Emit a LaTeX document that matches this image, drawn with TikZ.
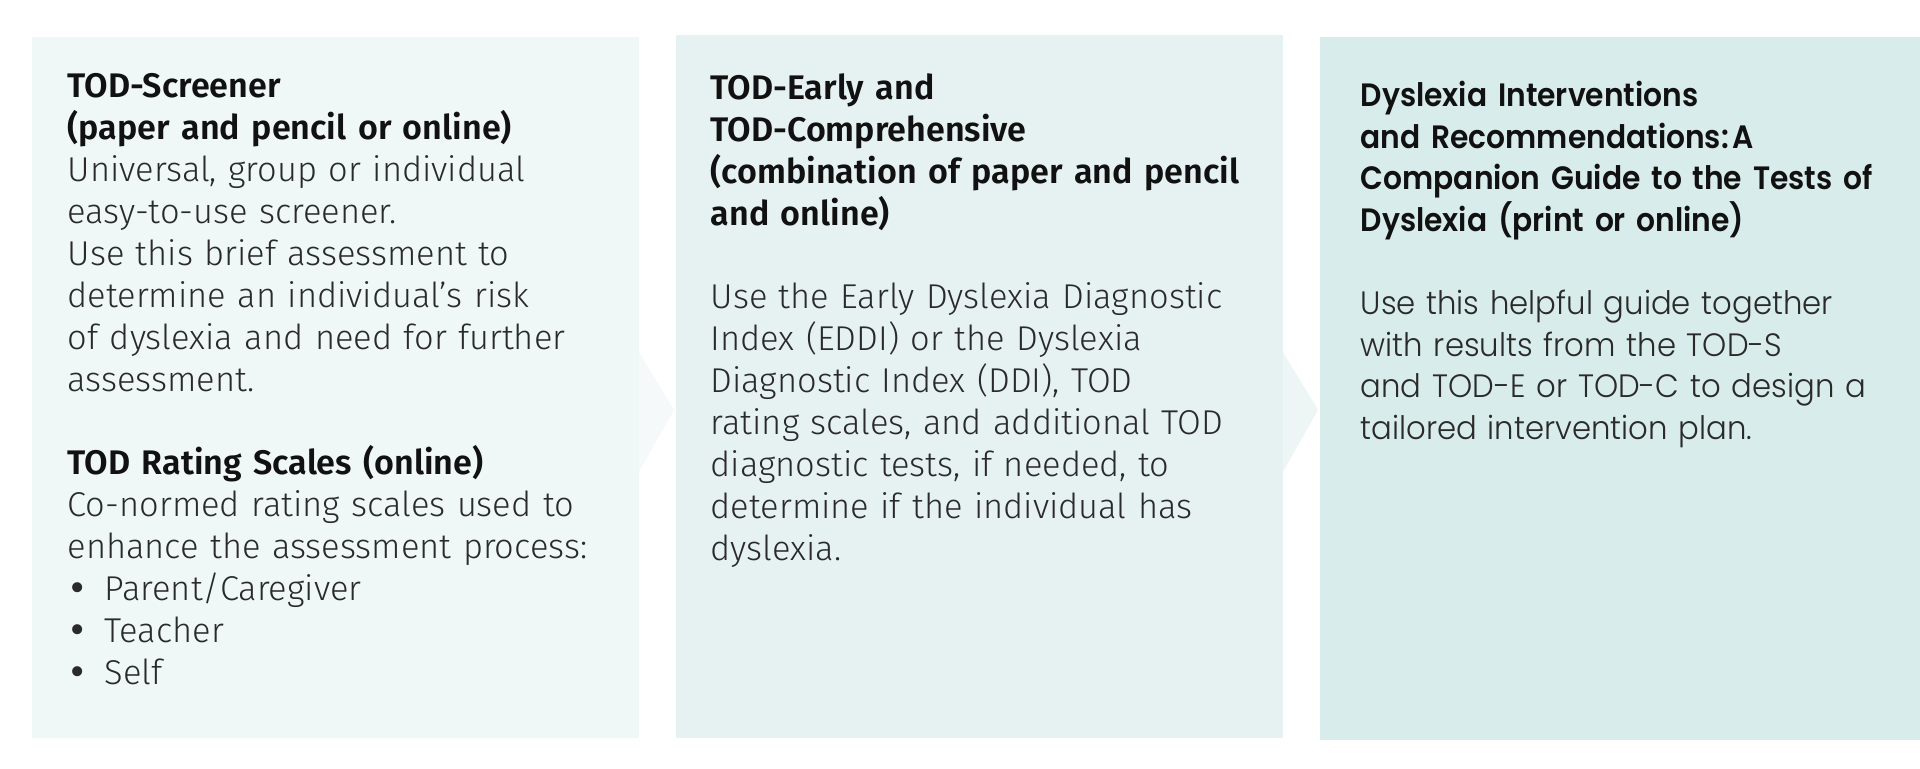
\documentclass[tikz,border=0pt]{standalone}
\usepackage{fontspec}
\usepackage{tikz}
\usetikzlibrary{positioning}

\setmainfont{Fira Sans}
\newfontfamily\headfont{Fira Sans SemiBold}
\newfontfamily\bodyfont{Fira Sans Light}
\newfontfamily\bulletfont{DejaVu Sans}
\newfontfamily\wideheadfont{Poppins SemiBold}[FakeStretch=0.92]
\newfontfamily\widebodyfont{Poppins Light}[FakeStretch=0.95]

\definecolor{panelA}{HTML}{F0F7F7}
\definecolor{panelB}{HTML}{E6F2F1}
\definecolor{panelC}{HTML}{D8ECEB}
\definecolor{inkhead}{HTML}{111111}
\definecolor{inkbody}{HTML}{2A2A2A}

\newcommand{\bulletmark}{\makebox[10.5pt][l]{{\bulletfont •}}}

\tikzset{
  panel/.style={anchor=north west, inner sep=0pt, text width=#1, align=left,
    font=\fontsize{9.8}{11.92}\selectfont, text=inkbody},
}

\begin{document}
\begin{tikzpicture}
\useasboundingbox (0,0) rectangle (19.2,7.69);

% the three panels
\fill[panelA] (0.32,0.31) rectangle (6.39,7.32) ;
\fill[panelA!70!white] (6.39,4.17) -- (6.74,3.59) -- (6.39,2.97) -- cycle ;
\fill[panelB] (6.76,0.31) rectangle (12.83,7.34) ;
\fill[panelB!70!white] (12.83,4.17) -- (13.18,3.59) -- (12.83,2.97) -- cycle ;
\fill[panelC] (13.20,0.29) rectangle (19.20,7.32) ;

% panel texts
\node[panel=6.0cm] (screener) at (0.67,6.96) {%
{\headfont\fontsize{9.7}{11.92}\selectfont\color{inkhead}TOD-Screener\\
(paper and pencil or online)}\\
{\bodyfont Universal, group or individual\\
easy-to-use screener.\\
Use this brief assessment to\\
determine an individual’s risk\\
of dyslexia and need for further\\
assessment.}\\[11.92pt]
{\headfont\fontsize{9.7}{11.92}\selectfont\color{inkhead}TOD Rating Scales (online)}\\
{\bodyfont Co-normed rating scales used to\\
enhance the assessment process:\\
\bulletmark Parent/Caregiver\\
\bulletmark Teacher\\
\bulletmark Self}} ;

\node[panel=6.0cm] (comprehensive) at (7.10,6.96) {%
{\headfont\fontsize{9.7}{11.92}\selectfont\color{inkhead}TOD-Early and\\
TOD-Comprehensive\\
(combination of paper and pencil\\
and online)}\\[11.92pt]
{\bodyfont Use the Early Dyslexia Diagnostic\\
Index (EDDI) or the Dyslexia\\
Diagnostic Index (DDI), TOD\\
rating scales, and additional TOD\\
diagnostic tests, if needed, to\\
determine if the individual has\\
dyslexia.}} ;

\node[panel=5.8cm, font=\fontsize{9.2}{11.84}\selectfont] (guide) at (13.60,6.885) {%
{\wideheadfont\color{inkhead}Dyslexia Interventions\\
and Recommendations:\hspace{0.12em}A\\
Companion Guide to the Tests of\\
Dyslexia (print or online)}\\[11.84pt]
{\widebodyfont Use this helpful guide together\\
with results from the TOD-S\\
and TOD-E or TOD-C to design a\\
tailored intervention plan.}} ;
\end{tikzpicture}
\end{document}
